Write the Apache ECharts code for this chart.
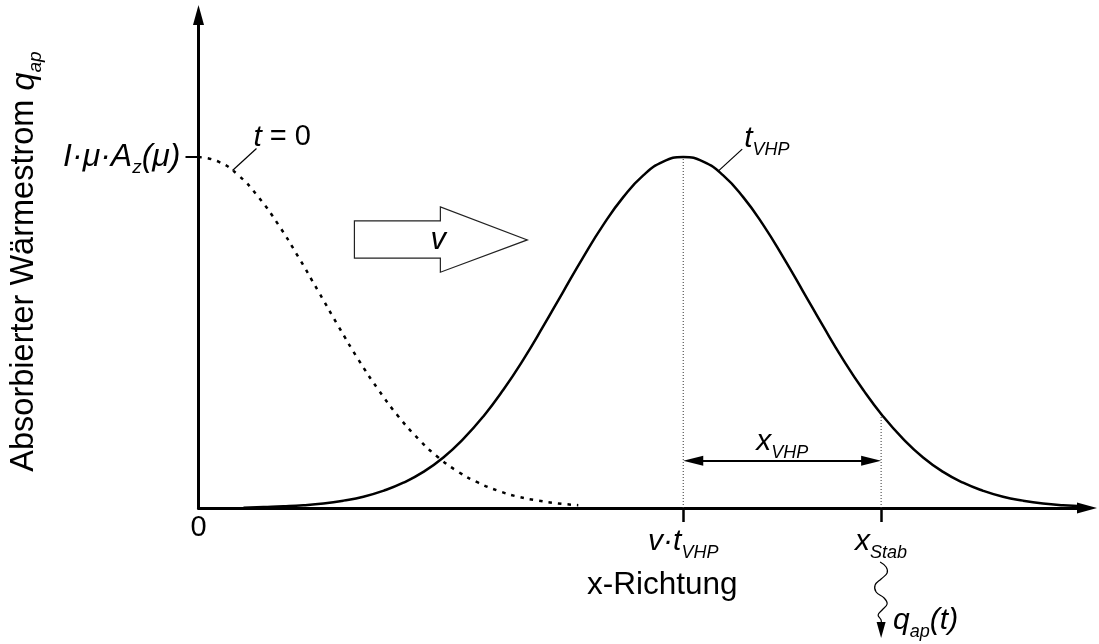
<!DOCTYPE html>
<html>
<head>
<meta charset="utf-8">
<script src="https://cdn.jsdelivr.net/npm/echarts@6/dist/echarts.min.js"></script>
<style>
  html, body { margin: 0; padding: 0; background: #fff; }
  #chart { width: 1099px; height: 644px; }
</style>
</head>
<body>
<div id="chart"></div>
<script>
// Absorbed heat flux profile: start profile at t = 0 and the moved pulse at t_VHP
const startX = [0, 0.2, 0.4, 0.6, 0.8, 1.0, 1.2, 1.4, 1.6, 1.8, 2.0, 2.2, 2.4, 2.6, 2.8, 3.0, 3.2, 3.4, 3.6, 3.8];
const startQ = [1, 0.987, 0.948, 0.886, 0.807, 0.715, 0.617, 0.518, 0.423, 0.337, 0.261, 0.197, 0.144, 0.103, 0.072, 0.049, 0.032, 0.021, 0.013, 0.008];

const pulseX = [0.45, 0.65, 0.85, 1.05, 1.25, 1.45, 1.65, 1.85, 2.05, 2.25, 2.45, 2.65, 2.85, 3.05, 3.25, 3.45, 3.65, 3.85, 4.05, 4.25, 4.45, 4.65,
                4.85, 5.05, 5.25, 5.45, 5.65, 5.85, 6.05, 6.25, 6.45, 6.65, 6.85, 7.05, 7.25, 7.45, 7.65, 7.85, 8.05, 8.25, 8.45, 8.65, 8.85];
const pulseQ = [0.001, 0.003, 0.005, 0.008, 0.013, 0.021, 0.032, 0.049, 0.072, 0.103, 0.144, 0.197, 0.261, 0.337, 0.423, 0.518, 0.617, 0.715, 0.807, 0.886, 0.948, 0.987,
                1, 0.987, 0.948, 0.886, 0.807, 0.715, 0.617, 0.518, 0.423, 0.337, 0.261, 0.197, 0.144, 0.103, 0.072, 0.049, 0.032, 0.021, 0.013, 0.008, 0.005];

const peakX = 4.85;   // v·t_VHP
const stabX = 6.83;   // x_Stab
const peakQ = 1;      // I·μ·A_z(μ)
const stabQ = 0.268;  // pulse height at x_Stab
const spanQ = 0.135;  // height of the x_VHP dimension arrow

const xTickLabels = { 4.85: '{m|v·t}{s|VHP}', 6.83: '{m|x}{s|Stab}' };
const yTickLabels = { 1: '{m|I·μ·A}{s|z}{m|(μ)}' };

const FONT = '"Liberation Sans", Arial, Helvetica, sans-serif';
const INK = '#000';

const rich = {
  m: { fontFamily: FONT, fontSize: 30, fontStyle: 'italic', color: INK },
  s: { fontFamily: FONT, fontSize: 18, fontStyle: 'italic', color: INK, padding: [22, 0, 0, 0] },
  n: { fontFamily: FONT, fontSize: 29, color: INK }
};
const richY = Object.assign({}, rich, {
  m: Object.assign({}, rich.m, { fontSize: 32 }),
  s: Object.assign({}, rich.s, { fontSize: 19 })
});

const pair = (xs, ys) => xs.map((x, i) => [x, ys[i]]);

const chart = echarts.init(document.getElementById('chart'), null, { renderer: 'canvas' });

chart.setOption({
  animation: false,
  backgroundColor: '#fff',
  grid: { left: 198, right: 12, top: 15, bottom: 136, containLabel: false },
  xAxis: {
    type: 'value', min: 0, max: 8.89,
    splitLine: { show: false },
    axisLine: { show: true, onZero: false, symbol: ['none', 'triangle'], symbolSize: [11, 20],
                lineStyle: { color: INK, width: 3 } },
    axisTick: { show: true, customValues: [peakX, stabX], length: 14, lineStyle: { color: INK, width: 2.5 } },
    axisLabel: { show: true, customValues: [peakX, stabX], margin: 34, verticalAlign: 'middle',
                 formatter: v => xTickLabels[v] || '', rich: rich },
    name: 'x-Richtung', nameLocation: 'middle', nameGap: 77,
    nameTextStyle: { fontFamily: FONT, fontSize: 31.5, color: INK, verticalAlign: 'middle', padding: [0, 0, 0, 39] }
  },
  yAxis: {
    type: 'value', min: 0, max: 1.405,
    splitLine: { show: false },
    axisLine: { show: true, onZero: false, symbol: ['none', 'triangle'], symbolSize: [11, 20],
                lineStyle: { color: INK, width: 3 } },
    axisTick: { show: true, customValues: [peakQ], length: 13, lineStyle: { color: INK, width: 2 } },
    axisLabel: { show: true, customValues: [peakQ], margin: 18, align: 'right', verticalAlign: 'middle',
                 formatter: v => yTickLabels[v] || '', rich: richY },
    name: '{n|Absorbierter Wärmestrom }{m|q}{s|ap}', nameLocation: 'middle', nameGap: 174, nameRotate: 90,
    nameTextStyle: { verticalAlign: 'middle', rich: {
      n: { fontFamily: FONT, fontSize: 32.5, color: INK },
      m: { fontFamily: FONT, fontSize: 32.5, fontStyle: 'italic', color: INK },
      s: { fontFamily: FONT, fontSize: 19, fontStyle: 'italic', color: INK, padding: [22, 0, 0, 0] }
    } }
  },
  series: [
    {
      name: 't = 0', type: 'line', data: pair(startX, startQ), smooth: true, showSymbol: false,
      lineStyle: { color: INK, width: 2.5, type: [3.5, 6] }, z: 3
    },
    {
      name: 't_VHP', type: 'line', data: pair(pulseX, pulseQ), smooth: true, showSymbol: false,
      lineStyle: { color: INK, width: 2.5 }, z: 4
    },
    {
      name: 'peak guide', type: 'line', data: [[peakX, 0], [peakX, peakQ]], showSymbol: false,
      lineStyle: { color: '#333', width: 1, type: [1, 2] }, z: 2,
      markLine: {
        silent: true, symbol: ['triangle', 'triangle'], symbolSize: [10, 20],
        lineStyle: { color: INK, width: 2, type: 'solid' }, label: { show: false },
        // ends pulled in by half a head length so the tips touch the guides
        data: [[{ coord: [peakX + 0.1, spanQ] }, { coord: [stabX - 0.1, spanQ] }]]
      }
    },
    {
      name: 'stab guide', type: 'line', data: [[stabX, 0], [stabX, stabQ]], showSymbol: false,
      lineStyle: { color: '#333', width: 1, type: [1, 2] }, z: 2
    }
  ]
});

// Annotations anchored to data coordinates
function drawAnnotations() {
  const P = (x, y) => chart.convertToPixel({ gridIndex: 0 }, [x, y]);
  const els = [];

  // origin label
  const o = P(0, 0);
  els.push({ type: 'text', x: o[0], y: o[1] + 20, style: { text: '0', font: '29px ' + FONT, fill: INK, align: 'center', verticalAlign: 'middle' } });

  // velocity block arrow
  const a = [[1.56, 0.818], [2.42, 0.818], [2.42, 0.858], [3.29, 0.764], [2.42, 0.672], [2.42, 0.712], [1.56, 0.712]].map(p => P(p[0], p[1]));
  els.push({ type: 'polygon', shape: { points: a }, style: { fill: '#fff', stroke: '#222', lineWidth: 1.2 }, z: 5 });
  const vc = P(2.40, 0.764);
  els.push({ type: 'text', x: vc[0], y: vc[1], z: 6, style: { text: 'v', font: 'italic 31px ' + FONT, fill: INK, align: 'center', verticalAlign: 'middle' } });

  // leader for t = 0
  const s0 = P(0.34, 0.962);
  const e0 = [s0[0] + 24, s0[1] - 22];
  els.push({ type: 'line', shape: { x1: s0[0], y1: s0[1], x2: e0[0], y2: e0[1] }, style: { stroke: INK, lineWidth: 1.2 } });
  els.push({ type: 'text', x: e0[0] - 3, y: e0[1] - 11, style: { text: '{m|t}{n| = 0}', rich: rich, align: 'left', verticalAlign: 'middle' } });

  // leader for t_VHP
  const s1 = P(5.20, 0.960);
  const e1 = [s1[0] + 24, s1[1] - 22];
  els.push({ type: 'line', shape: { x1: s1[0], y1: s1[1], x2: e1[0], y2: e1[1] }, style: { stroke: INK, lineWidth: 1.2 } });
  els.push({ type: 'text', x: e1[0] + 2, y: e1[1] - 10, style: { text: '{m|t}{s|VHP}', rich: rich, align: 'left', verticalAlign: 'middle' } });

  // x_VHP dimension label
  const mid = P((peakX + stabX) / 2, spanQ);
  els.push({ type: 'text', x: mid[0], y: mid[1] - 19, style: { text: '{m|x}{s|VHP}', rich: rich, align: 'center', verticalAlign: 'middle' } });

  // wavy heat-flow arrow below x_Stab
  const b = P(stabX, 0);
  const wave = [[-1, 54], [5, 59], [6, 65], [0, 71], [-6, 77], [-5, 84], [3, 90], [6, 96], [1, 102], [-3, 107], [0, 112], [0, 116]]
    .map(p => [b[0] + p[0], b[1] + p[1]]);
  els.push({ type: 'polyline', shape: { points: wave, smooth: 0.4 }, style: { stroke: INK, lineWidth: 1.2, fill: null } });
  els.push({ type: 'polygon', shape: { points: [[b[0] - 4.5, b[1] + 114], [b[0] + 4.5, b[1] + 114], [b[0], b[1] + 130]] }, style: { fill: INK } });
  els.push({ type: 'text', x: b[0] + 12, y: b[1] + 113, style: { text: '{m|q}{s|ap}{m|(t)}', rich: rich, align: 'left', verticalAlign: 'middle' } });

  chart.setOption({ graphic: { elements: els } });
}
drawAnnotations();
</script>
</body>
</html>
